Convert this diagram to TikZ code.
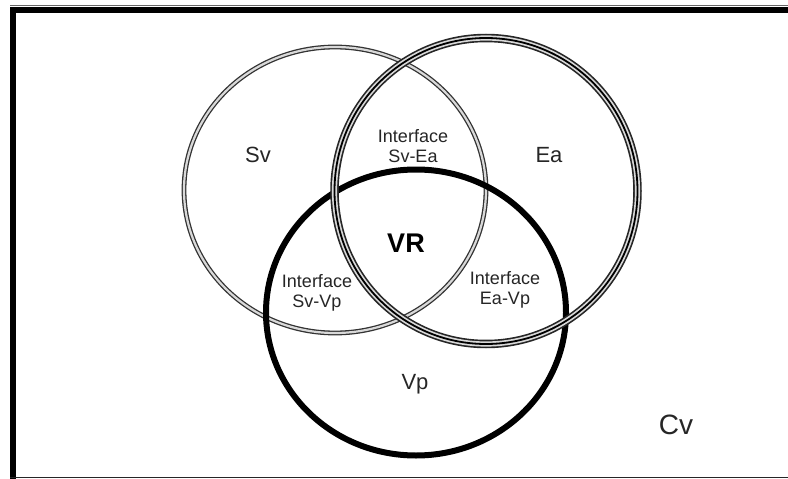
\documentclass[tikz,border=0pt]{standalone}
\usepackage{fontspec}
\setmainfont{Liberation Sans}
\begin{document}
\begin{tikzpicture}[x=1pt,y=-1pt,
  lbl/.style={inner sep=0pt,align=center,text=black!85},
  small/.style={lbl,font=\fontsize{18}{20.5}\selectfont},
  setname/.style={lbl,font=\fontsize{22}{24}\selectfont},
  svring/.style={draw=black!80,line width=4.8pt},
  svgap/.style={draw=white!85!black,line width=2.2pt},
  earing/.style={draw=black!85,line width=8.5pt},
  eagap/.style={draw=white!85!black,line width=5.2pt},
  eacore/.style={draw=black,line width=1.8pt},
  vpring/.style={draw=black,line width=6pt}]
% canvas and frame
\useasboundingbox (0,0) rectangle (788,479);
\fill[white] (0,0) rectangle (788,479);
\draw[black,line width=6pt] (13,479) -- (13,9.5) -- (788,9.5);
\draw[black!60,line width=0.8pt] (10,5.5) -- (788,5.5);
\draw[black!85,line width=1.6pt] (10,477.5) -- (788,477.5);
% centres of the three sets
\coordinate (csv) at (335,190);
\coordinate (cea) at (486,191);
\coordinate (cvp) at (416,312.5);
% Sv : thin double ring
\draw[svring] (csv) ellipse [x radius=151,y radius=143];
\draw[svgap] (csv) ellipse [x radius=151,y radius=143];
% Vp : heavy black ring
\draw[vpring] (cvp) ellipse [x radius=150,y radius=143];
% Ea : triple ring
\draw[earing] (cea) ellipse [x radius=151.5,y radius=153];
\draw[eagap] (cea) ellipse [x radius=151.5,y radius=153];
\draw[eacore] (cea) ellipse [x radius=151.5,y radius=153];
% labels
\node[setname] (sv) at (258,155) {Sv};
\node[setname] (ea) at (549,155) {Ea};
\node[setname] (vp) at (415,384) {Vp};
\node[lbl,font=\fontsize{28}{30}\selectfont] (cv) at (676,425) {Cv};
\node[lbl,font=\bfseries\fontsize{27}{29}\selectfont,text=black] (vr) at (406,243) {VR};
\node[small] (isvea) at (413,146) {Interface\\Sv-Ea};
\node[small] (isvvp) at (317,293) {Interface\\Sv-Vp};
\node[small] (ieavp) at (505,290) {Interface\\Ea-Vp};
\end{tikzpicture}
\end{document}
